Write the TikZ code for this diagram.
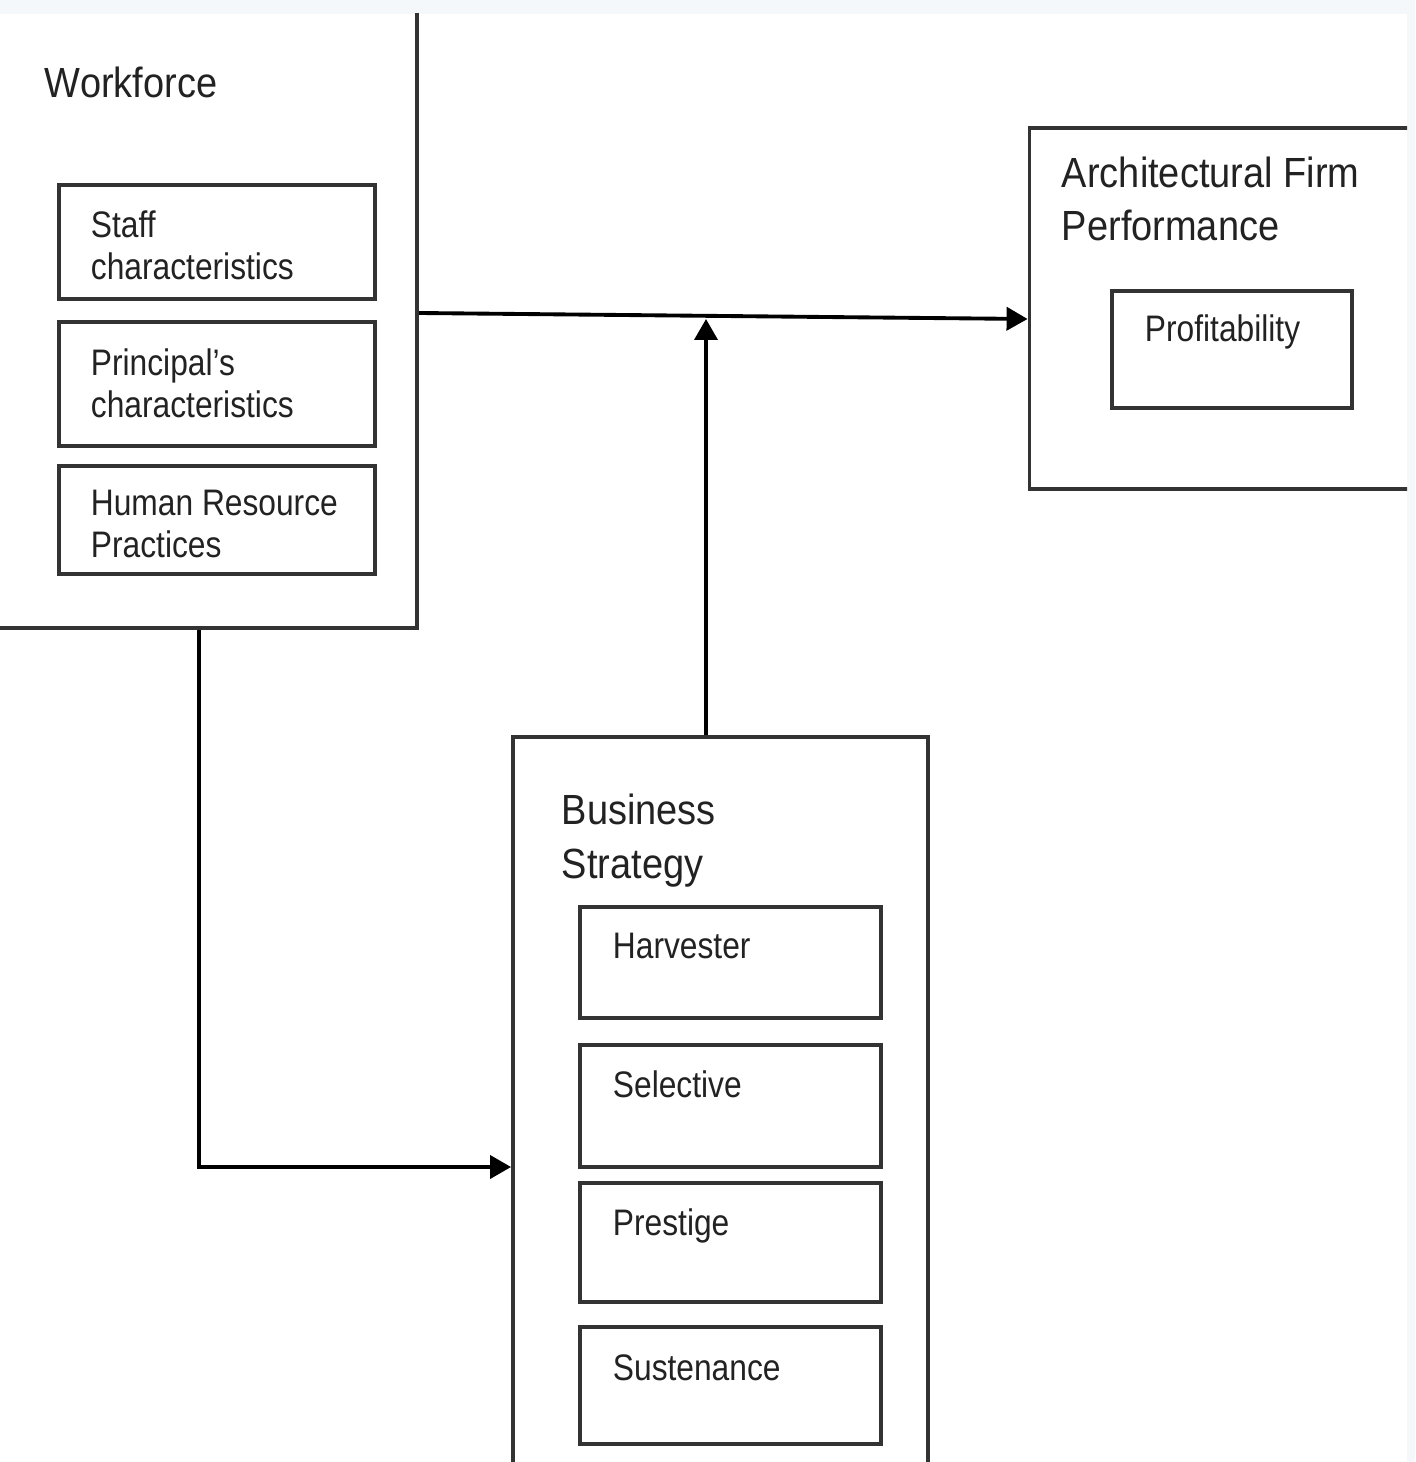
\documentclass[tikz,border=0pt]{standalone}
\usepackage{fontspec}
\setmainfont{Liberation Sans}
\newfontfamily\titlefont[FakeStretch=0.9]{Liberation Sans}
\newfontfamily\itemfont[FakeStretch=0.86]{Liberation Sans}
\usepackage{tikz}
\usetikzlibrary{positioning, arrows.meta}

\definecolor{strip}{RGB}{244,248,251}
\definecolor{ink}{RGB}{34,34,34}

\tikzset{
    box/.style={draw=black!80, line width=1.1pt, inner sep=0pt},
    title/.style={anchor=base west, inner sep=0pt, align=left, text=ink,
        font=\titlefont\fontsize{12}{15.2}\selectfont},
    item/.style={anchor=base west, inner sep=0pt, align=left, text=ink,
        font=\itemfont\fontsize{10.5}{12.2}\selectfont},
}

\begin{document}
\begin{tikzpicture}[>={Triangle[length=2.1mm, width=2.3mm]}, line width=1.1pt]
    \useasboundingbox (0, 0) rectangle (14.15, -14.62);
    \fill[strip] (0, 0) rectangle (14.15, -14.62);
    \fill[white] (0, -0.14) rectangle (14.07, -14.62);
    \clip (0, -0.14) rectangle (14.07, -14.62);

    % workforce
    \node[box, minimum width=4.36cm, minimum height=6.58cm] (wf) at (1.99, -2.99) {};
    \node[box, minimum width=3.16cm, minimum height=1.14cm] (staff) at (2.17, -2.42) {};
    \node[box, minimum width=3.16cm, minimum height=1.24cm] (princ) at (2.17, -3.84) {};
    \node[box, minimum width=3.16cm, minimum height=1.08cm] (hrp) at (2.17, -5.20) {};
    \node[title] (wf-t) at (0.43, -0.98) {Workforce};
    \node[item] (staff-t) at (0.89, -2.80) {Staff\\characteristics};
    \node[item] (princ-t) at (0.89, -4.18) {Principal’s\\characteristics};
    \node[item] (hrp-t) at (0.89, -5.58) {Human Resource\\Practices};

    % performance
    \node[box, minimum width=4.31cm, minimum height=3.61cm] (afp) at (12.45, -3.085) {};
    \node[box, minimum width=2.40cm, minimum height=1.17cm] (prof) at (12.32, -3.495) {};
    \node[title] (afp-t) at (10.60, -2.41) {Architectural Firm\\Performance};
    \node[item] (prof-t) at (11.43, -3.42) {Profitability};

    % strategy
    \node[box, minimum width=4.15cm, minimum height=7.63cm] (bs) at (7.205, -11.185) {};
    \node[box, minimum width=3.01cm, minimum height=1.11cm] (harv) at (7.305, -9.625) {};
    \node[box, minimum width=3.01cm, minimum height=1.22cm] (sel) at (7.305, -11.06) {};
    \node[box, minimum width=3.01cm, minimum height=1.19cm] (pres) at (7.305, -12.425) {};
    \node[box, minimum width=3.01cm, minimum height=1.17cm] (sust) at (7.305, -13.855) {};
    \node[title] (bs-t) at (5.60, -8.78) {Business\\Strategy};
    \node[item] (harv-t) at (6.11, -9.58) {Harvester};
    \node[item] (sel-t) at (6.11, -10.97) {Selective};
    \node[item] (pres-t) at (6.11, -12.35) {Prestige};
    \node[item] (sust-t) at (6.11, -13.80) {Sustenance};

    \coordinate (join) at (7.06, -3.19);

    \draw[->] (wf.east |- 0, -3.13) -- (afp.west |- 0, -3.19);
    \draw[->] (bs.north -| join) -- (join);
    \draw[->] (wf.south) |- (bs.west |- 0, -11.67);
\end{tikzpicture}
\end{document}
